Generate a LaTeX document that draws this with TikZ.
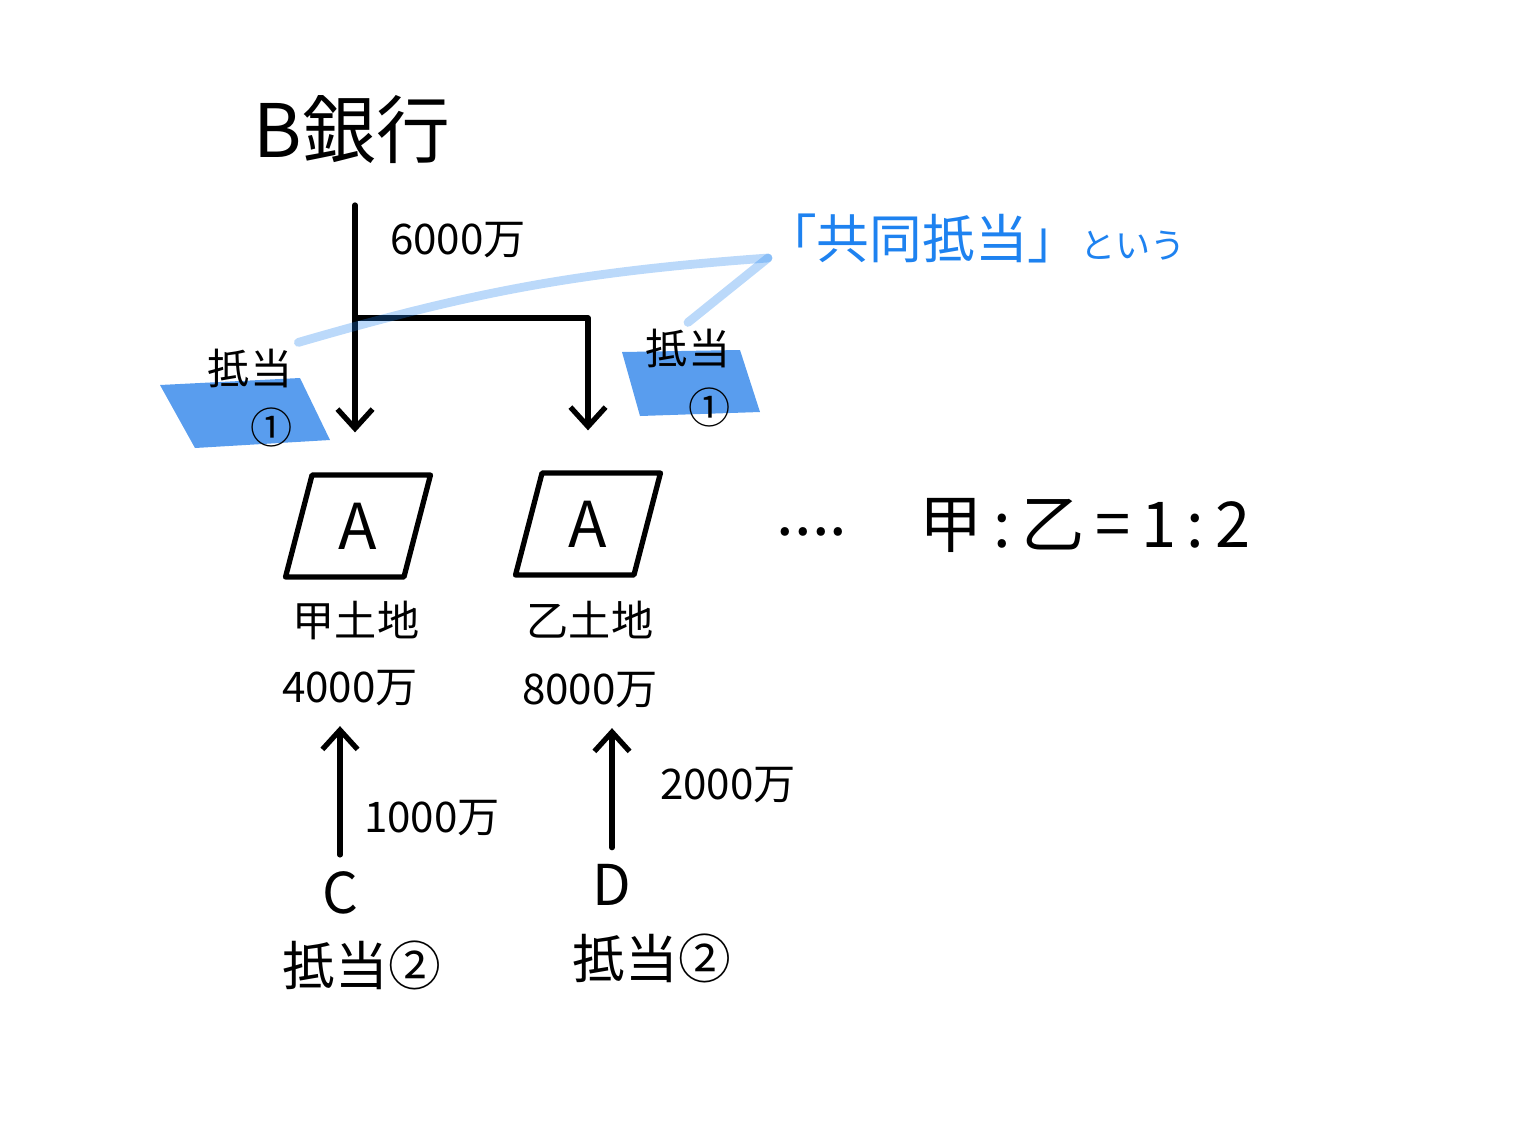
\documentclass[tikz,border=0pt]{standalone}
\usepackage{fontspec}
\setmainfont{Noto Sans CJK JP}
\usetikzlibrary{arrows.meta, positioning, shapes.geometric}
\definecolor{hlblue}{RGB}{60,140,235}
\definecolor{penblue}{RGB}{30,130,240}

\tikzset{
  pen/.style={line width=3pt, line cap=round, line join=round},
  arr/.style={pen, -{Straight Barb[length=11pt,width=20pt]}},
  landbox/.style={pen, draw, trapezium, trapezium left angle=76, trapezium right angle=104,
    trapezium stretches=true, minimum width=2.9cm, minimum height=2.04cm,
    font=\fontsize{36}{40}\selectfont},
  huge/.style={font=\fontsize{42}{46}\selectfont},
  big/.style={font=\fontsize{30}{34}\selectfont},
  mid/.style={font=\fontsize{24}{28}\selectfont},
  letter/.style={font=\fontsize{32}{36}\selectfont},
  ratio/.style={font=\fontsize{36}{40}\selectfont},
  mort/.style={font=\fontsize{24}{34}\selectfont, align=right},
  bluetext/.style={text=penblue, font=\fontsize{30}{34}\selectfont},
  faint/.style={draw=penblue, opacity=.3, line width=5pt, line cap=round},
  hilite/.style={fill=hlblue, opacity=.85}
}

\begin{document}
\begin{tikzpicture}[x=0.02cm, y=-0.02cm]
  \useasboundingbox (0,0) rectangle (1536,1130);

  % blue highlights under the first mortgages
  \fill[hilite] (160,385) -- (300,378) -- (330,440) -- (195,448) -- cycle;
  \fill[hilite] (622,352) -- (740,350) -- (760,412) -- (640,416) -- cycle;

  \node[huge] (bank) at (352,130) {B銀行};
  \node[mid] (amt) at (458,240) {6000万};
  \coordinate (top) at (355,205);
  \coordinate (split) at (355,318);

  \node[landbox] (boxL) at (358,526) {A};
  \node[landbox] (boxR) at (588,524) {A};
  \node[mid] (landL) at (356,620) {甲土地};
  \node[mid] (valL) at (350,688) {4000万};
  \node[mid] (landR) at (590,620) {乙土地};
  \node[mid] (valR) at (590,690) {8000万};

  \draw[arr, shorten >=0.8cm] (top) -- (top |- boxL.north);
  \draw[arr, shorten >=0.8cm] (split) -| (boxR.north);

  \node[mort] (mortL) at (250,398) {抵当\\①};
  \node[mort] (mortR) at (688,378) {抵当\\①};

  \node[letter] (C) at (340,893) {C};
  \node[letter] (D) at (612,885) {D};
  \node[big] (mortC) at (362,965) {抵当②};
  \node[big] (mortD) at (652,958) {抵当②};
  \node[mid] (loanC) at (432,818) {1000万};
  \node[mid] (loanD) at (728,785) {2000万};
  \draw[arr, shorten <=6pt, shorten >=8pt] (C.north) -- (C.north |- valL.south);
  \draw[arr, shorten <=6pt, shorten >=8pt] (D.north) -- (D.north |- valR.south);

  \node[ratio] (dots) at (812,532) {....};
  \node[ratio] (ratio) at (1085,525) {甲\,:\,乙\,=\,1\,:\,2};

  \node[bluetext] (kyodo) at (975,238) {「共同抵当」{\fontsize{20}{24}\selectfont という}};
  \coordinate (hl) at (768,258);
  \draw[faint] (hl) to[bend right=6] (mortL.north east);
  \draw[faint] (hl) to (mortR.north);
\end{tikzpicture}
\end{document}
